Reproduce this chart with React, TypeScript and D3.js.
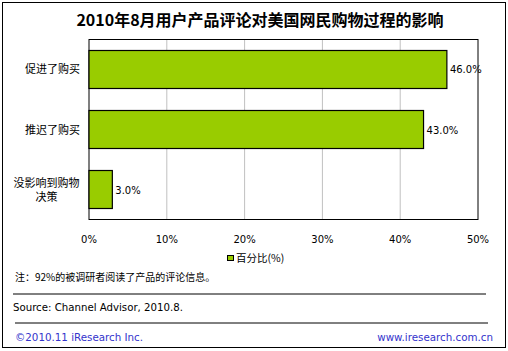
import React from 'react';
import * as d3 from 'd3';

const categories = ['促进了购买', '推迟了购买', '没影响到购物\n决策'];
const values = [46.0, 43.0, 3.0];
const xTicks = [0, 10, 20, 30, 40, 50];
const title = '2010年8月用户产品评论对美国网民购物过程的影响';
const legendLabel = '百分比(%)';
const note = '注：92%的被调研者阅读了产品的评论信息。';
const source = 'Source: Channel Advisor, 2010.8.';

const W = 508;
const H = 351;
const plot = { left: 89, right: 478, top: 39.5, bottom: 219.5 };
const font = '"DejaVu Sans", "Noto Sans CJK SC", sans-serif';
const cjk = '"Noto Sans CJK SC", "DejaVu Sans", sans-serif';

export default function App() {
  const x = d3.scaleLinear().domain([0, 50]).range([plot.left, plot.right]);
  const y = d3
    .scaleBand()
    .domain(categories)
    .range([plot.top, plot.bottom])
    .paddingInner(0.3667)
    .paddingOuter(0.1833);

  return (
    <svg
      width={W}
      height={H}
      style={{ position: 'absolute', left: 0, top: 0, background: '#fff' }}
    >
      <rect x={2.5} y={2.5} width={503} height={345} fill="#fff" stroke="#000" strokeWidth={1} />
      <text
        x={260}
        y={26}
        textAnchor="middle"
        fontFamily={cjk}
        fontSize={16}
        fontWeight="bold"
        fill="#000"
      >
        {title}
      </text>

      {/* grid */}
      {xTicks.slice(1, -1).map((t) => (
        <line key={t} x1={x(t)} x2={x(t)} y1={plot.top} y2={plot.bottom} stroke="#c0c0c0" />
      ))}
      <rect
        x={plot.left}
        y={plot.top}
        width={plot.right - plot.left}
        height={plot.bottom - plot.top}
        fill="none"
        stroke="#000"
      />

      {/* bars */}
      {categories.map((c, i) => (
        <g key={c}>
          <rect
            x={x(0)}
            y={y(c)!}
            width={x(values[i]) - x(0)}
            height={y.bandwidth()}
            fill="#99cc00"
            stroke="#000"
            strokeWidth={1.2}
          />
          <text
            x={x(values[i]) + 3}
            y={y(c)! + y.bandwidth() / 2 + 4}
            fontFamily={font}
            fontSize={10}
            fill="#000"
          >
            {values[i].toFixed(1) + '%'}
          </text>
        </g>
      ))}

      {/* category labels */}
      {categories.map((c) => {
        const lines = c.split('\n');
        const cy = y(c)! + y.bandwidth() / 2;
        if (lines.length === 1) {
          return (
            <text key={c} x={80} y={cy + 4} textAnchor="end" fontFamily={cjk} fontSize={11} fill="#000">
              {c}
            </text>
          );
        }
        return (
          <text key={c} textAnchor="middle" fontFamily={cjk} fontSize={11} fill="#000">
            {lines.map((l, j) => (
              <tspan key={j} x={46.5} y={cy - 3 + j * 14.5}>
                {l}
              </tspan>
            ))}
          </text>
        );
      })}

      {/* x ticks */}
      {xTicks.map((t) => (
        <text key={t} x={x(t)} y={243} textAnchor="middle" fontFamily={font} fontSize={10} fill="#000">
          {t + '%'}
        </text>
      ))}

      {/* legend */}
      <rect x={227.5} y={255.5} width={6} height={5} fill="#99cc00" stroke="#000" />
      <text x={236} y={262} fontFamily={cjk} fontSize={10.5} fill="#000">
        {legendLabel}
      </text>

      <text x={15} y={281} fontFamily={cjk} fontSize={10} fill="#000">
        {note}
      </text>
      <line x1={13} x2={486} y1={294} y2={294} stroke="#000" />
      <text x={13} y={311} fontFamily={font} fontSize={10.2} fill="#000">
        {source}
      </text>
      <line x1={15} x2={488} y1={323} y2={323} stroke="#000" />
      <text x={15} y={341} fontFamily={font} fontSize={10.3} fill="#3333cc">
        ©2010.11 iResearch Inc.
      </text>
      <text x={493} y={341} textAnchor="end" fontFamily={font} fontSize={10.3} fill="#3333cc">
        www.iresearch.com.cn
      </text>
    </svg>
  );
}
